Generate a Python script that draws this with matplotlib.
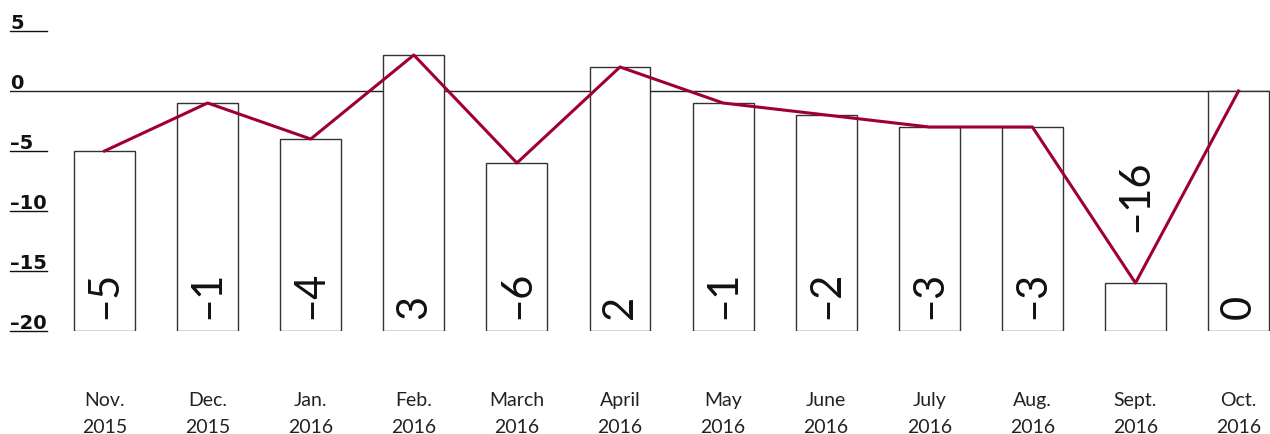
import matplotlib
matplotlib.use("Agg")
import matplotlib.pyplot as plt
import matplotlib.transforms as mtransforms

months = ["Nov.", "Dec.", "Jan.", "Feb.", "March", "April", "May", "June", "July", "Aug.", "Sept.", "Oct."]
years = ["2015", "2015", "2016", "2016", "2016", "2016", "2016", "2016", "2016", "2016", "2016", "2016"]
values = [-5, -1, -4, 3, -6, 2, -1, -2, -3, -3, -16, 0]
yticks = [5, 0, -5, -10, -15, -20]
ytick_labels = ["5", "0", "\u20135", "\u201310", "\u201315", "\u201320"]
value_labels = ["\u20135", "\u20131", "\u20134", "3", "\u20136", "2", "\u20131", "\u20132", "\u20133", "\u20133", "\u201316", "0"]

W, H = 1270, 435
fig = plt.figure(figsize=(W / 100, H / 100), dpi=100)
ax = fig.add_axes([10 / W, 1 - 332 / H, 1260 / W, 312 / H])
ax.set_ylim(-20, 6)
ax.set_xlim(-0.917, 11.305)
ax.axis("off")

base = -20
x = list(range(len(values)))
heights = [v - base for v in values]
ax.bar(x, heights, bottom=base, width=0.59, facecolor="white", edgecolor="#333333", linewidth=1.0, zorder=2)

ax.plot(x, values, color="#A0002F", linewidth=2.2, zorder=4)

# zero line
ax.axhline(0, color="#222222", linewidth=1.0, zorder=1)

trans = mtransforms.blended_transform_factory(ax.transAxes, ax.transData)
for t, lab in zip(yticks, ytick_labels):
    ax.text(0, t + 0.25, lab, transform=trans, ha="left", va="baseline",
            fontsize=14, fontweight="bold", family="DejaVu Sans", color="#111111")
    if t != 0:
        ax.plot([0, 37 / 1260], [t, t], transform=trans, color="#111111", linewidth=1.0, clip_on=False)

for xi, v, lab in zip(x, values, value_labels):
    if v - base < 6:
        ypos = v + 4.33
    else:
        ypos = base + 1.1
    ax.text(xi, ypos, lab, rotation=90, ha="center", va="bottom", fontsize=30,
            family="Lato", fontweight="normal", color="#111111", zorder=5)

for xi, m, yr in zip(x, months, years):
    ax.text(xi, -25.67, m, ha="center", va="center", fontsize=14,
            family="Lato", color="#222222", clip_on=False)
    ax.text(xi, -27.92, yr, ha="center", va="center", fontsize=14,
            family="Lato", color="#222222", clip_on=False)

fig.savefig("out.png", dpi=100)
